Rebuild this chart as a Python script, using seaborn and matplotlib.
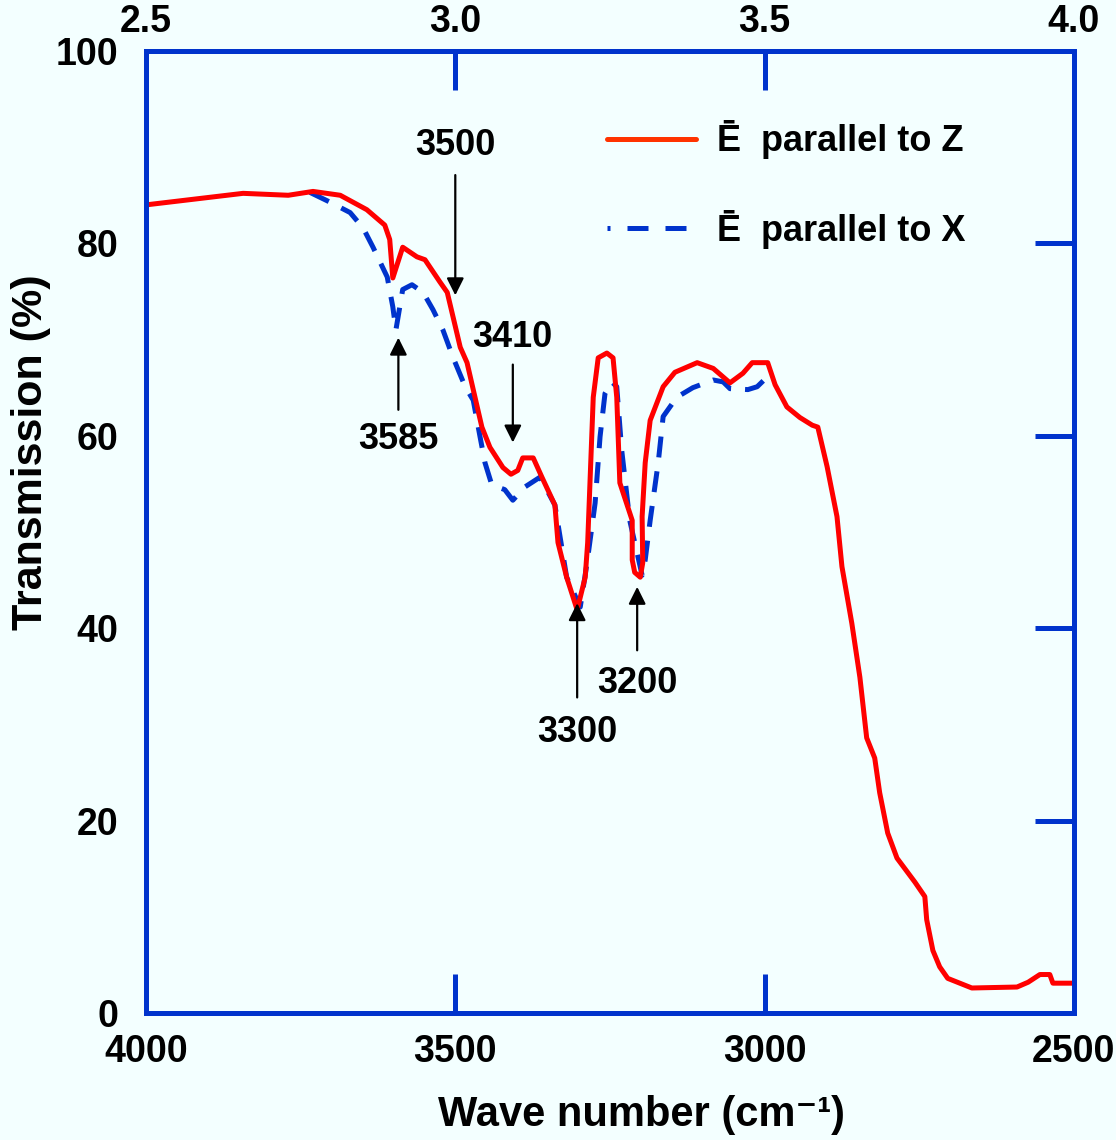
import matplotlib
matplotlib.use("Agg")
import matplotlib.pyplot as plt
from matplotlib.lines import Line2D
import seaborn as sns
import pandas as pd

# spectrum, E parallel to Z (red, solid)
wn_z = [4000, 3843, 3770, 3730, 3686, 3643, 3614, 3606, 3601, 3585, 3562, 3549,
        3525, 3513, 3492, 3481, 3471, 3457, 3444, 3423, 3410, 3399, 3391, 3374,
        3360, 3339, 3334, 3320, 3303, 3290, 3286, 3277, 3269, 3255, 3245, 3239,
        3234, 3214, 3214, 3210, 3201, 3197, 3198, 3193, 3185, 3164, 3145, 3109,
        3083, 3056, 3035, 3020, 2995, 2983, 2964, 2943, 2923, 2914, 2899, 2883,
        2875, 2859, 2846, 2835, 2822, 2814, 2801, 2786, 2757, 2741, 2738, 2728,
        2717, 2704, 2665, 2592, 2574, 2555, 2539, 2534, 2500]
tr_z = [84.0, 85.2, 85.0, 85.4, 85.0, 83.5, 81.9, 80.4, 76.4, 79.6, 78.6, 78.3,
        76.0, 74.9, 69.2, 67.6, 64.8, 60.9, 58.8, 56.7, 56.0, 56.4, 57.7, 57.7,
        55.7, 52.8, 48.9, 45.3, 41.9, 45.3, 48.9, 64.0, 68.1, 68.6, 68.1, 64.0,
        55.1, 51.2, 47.1, 45.8, 45.3, 46.8, 51.6, 57.2, 61.6, 65.1, 66.6, 67.6,
        67.0, 65.5, 66.5, 67.6, 67.6, 65.3, 63.0, 61.9, 61.1, 60.9, 56.8, 51.6,
        46.4, 40.5, 34.9, 28.6, 26.5, 22.9, 18.7, 16.1, 13.6, 12.1, 9.7, 6.5,
        4.8, 3.6, 2.6, 2.7, 3.2, 4.0, 4.0, 3.1, 3.1]

# spectrum, E parallel to X (blue, dashed)
wn_x = [3735, 3703, 3670, 3649, 3633, 3610, 3601, 3596, 3585, 3570, 3552, 3536,
        3520, 3504, 3484, 3471, 3460, 3452, 3441, 3420, 3407, 3387, 3363, 3339,
        3320, 3298, 3287, 3274, 3266, 3258, 3247, 3239, 3231, 3218, 3198, 3193,
        3185, 3172, 3164, 3142, 3116, 3083, 3067, 3056, 3027, 3012, 2996]
tr_x = [85.3, 84.3, 83.2, 81.6, 79.6, 76.5, 73.4, 71.0, 75.2, 75.7, 74.9, 73.1,
        71.0, 68.2, 65.1, 63.7, 59.9, 57.2, 54.9, 54.4, 53.3, 54.7, 55.7, 52.8,
        45.3, 42.2, 46.8, 53.0, 59.9, 64.4, 65.6, 65.1, 58.5, 51.2, 45.5, 47.1,
        51.2, 57.2, 62.0, 64.0, 65.0, 65.8, 65.6, 64.9, 64.8, 65.1, 66.1]

# annotated bands: label, x, arrow tail, arrow tip, text y
peak_labels = ["3500", "3585", "3410", "3300", "3200"]
peak_x = [3500, 3592, 3407, 3303, 3206]
arrow_tail = [87.1, 62.7, 67.4, 32.8, 37.7]
arrow_tip = [74.6, 70.2, 59.3, 42.6, 44.3]
text_y = [90.2, 59.6, 70.2, 29.2, 34.3]

bottom_ticks = [4000, 3500, 3000, 2500]
top_labels = ["2.5", "3.0", "3.5", "4.0"]
y_ticks = [0, 20, 40, 60, 80, 100]

bg = "#F3FFFF"
axis_blue = "#0033CC"

sns.set_style("white")
plt.rcParams["font.family"] = ["Liberation Sans", "DejaVu Sans"]
plt.rcParams["font.weight"] = "bold"
plt.rcParams["text.color"] = "black"
plt.rcParams["axes.labelcolor"] = "black"
plt.rcParams["xtick.labelcolor"] = "black"
plt.rcParams["ytick.labelcolor"] = "black"

fig = plt.figure(figsize=(11.16, 11.40), dpi=100, facecolor=bg)
ax = fig.add_axes([0.1308, 0.1114, 0.8315, 0.8439])
ax.set_facecolor(bg)

df_x = pd.DataFrame({"wn": wn_x, "T": tr_x})
df_z = pd.DataFrame({"wn": wn_z, "T": tr_z})
sns.lineplot(data=df_x, x="wn", y="T", sort=False, estimator=None,
             color=axis_blue, lw=3.6, ax=ax)
ax.lines[-1].set_dashes((4.2, 2.8))
sns.lineplot(data=df_z, x="wn", y="T", sort=False, estimator=None,
             color="#FF0000", lw=3.6, ax=ax)

ax.set_xlim(4000, 2500)
ax.set_ylim(0, 100)
ax.set_xticks(bottom_ticks)
ax.set_xticklabels([str(t) for t in bottom_ticks])
ax.set_yticks(y_ticks)
ax.tick_params(axis="both", direction="in", length=28, width=3.6, color=axis_blue,
               labelsize=27, top=True, right=True)
ax.tick_params(axis="x", pad=15)
ax.tick_params(axis="y", pad=20)
for lab in ax.get_xticklabels() + ax.get_yticklabels():
    lab.set_fontweight("bold")
for sp in ax.spines.values():
    sp.set_color(axis_blue)
    sp.set_linewidth(3.6)

ax2 = ax.twiny()
ax2.set_xlim(4000, 2500)
ax2.set_xticks(bottom_ticks)
ax2.set_xticklabels(top_labels, fontweight="bold")
ax2.tick_params(axis="x", direction="in", length=28, width=3.6, color=axis_blue,
                labelsize=27, pad=8)
for sp in ax2.spines.values():
    sp.set_visible(False)

ax.set_xlabel("Wave number (cm\u207b\u00b9)", fontsize=30, fontweight="bold")
ax.set_ylabel("Transmission (%)", fontsize=31, fontweight="bold")
ax.xaxis.set_label_coords(0.534, -0.085)
ax.yaxis.set_label_coords(-0.102, 0.583)

for lab, x, t0, t1, ty in zip(peak_labels, peak_x, arrow_tail, arrow_tip, text_y):
    ax.annotate("", xy=(x, t1), xytext=(x, t0),
                arrowprops=dict(arrowstyle="-|>", color="black", lw=1.6,
                                mutation_scale=26, shrinkA=0, shrinkB=0))
    ax.text(x, ty, lab, ha="center", va="center", fontsize=26, fontweight="bold")

handles = [Line2D([], [], color="#FF3300", lw=3.6),
           Line2D([], [], color=axis_blue, lw=3.6, linestyle=(3.6, (4.2, 3.4)))]
ax.legend(handles, ["\u0112  parallel to Z", "\u0112  parallel to X"],
          loc="upper left", bbox_to_anchor=(0.497, 0.928), frameon=False,
          prop={"weight": "bold", "size": 26}, handlelength=2.45,
          handletextpad=0.6, labelspacing=1.4, borderpad=0, borderaxespad=0)

fig.savefig("out.png", dpi=100, facecolor=bg)
